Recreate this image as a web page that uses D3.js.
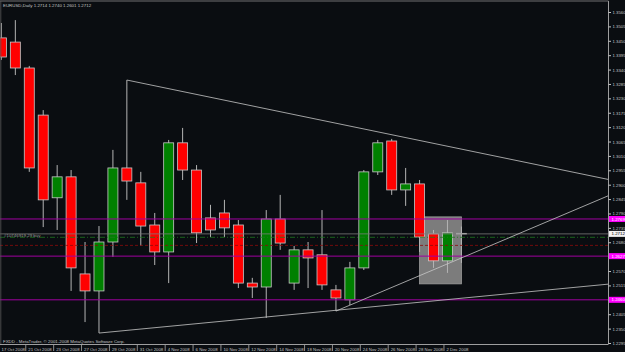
<!DOCTYPE html>
<html>
<head>
<meta charset="utf-8">
<title>EURUSD Daily - D3.js</title>
<script src="https://d3js.org/d3.v7.min.js"></script>
<style>
body { margin: 0; background: #0a0d11; }
svg { display: block; background: #0a0d11; }
text { font-family: "Liberation Sans", Arial, sans-serif; fill: #c4c4c4; }
.small { font-size: 4.4px; }
.axis text { font-size: 4.3px; fill: #c4c4c4; }
.axis line { stroke: #c4c4c4; }
.wick { stroke: #b4b4b4; stroke-width: 1; }
.body { stroke: #c8c8c8; stroke-width: 0.8; }
.trend { stroke: #c8c8c8; stroke-width: 0.8; fill: none; }
.level { stroke: #a000a0; stroke-width: 1; }
</style>
</head>
<body>
<svg width="625" height="352"></svg>

<script>
// daily bars
const dates = ["17 Oct 2008", "20 Oct 2008", "21 Oct 2008", "22 Oct 2008", "23 Oct 2008", "24 Oct 2008",
  "27 Oct 2008", "28 Oct 2008", "29 Oct 2008", "30 Oct 2008", "31 Oct 2008", "3 Nov 2008",
  "4 Nov 2008", "5 Nov 2008", "6 Nov 2008", "7 Nov 2008", "10 Nov 2008", "11 Nov 2008",
  "12 Nov 2008", "13 Nov 2008", "14 Nov 2008", "17 Nov 2008", "18 Nov 2008", "19 Nov 2008",
  "20 Nov 2008", "21 Nov 2008", "24 Nov 2008", "25 Nov 2008", "26 Nov 2008", "27 Nov 2008",
  "28 Nov 2008", "1 Dec 2008", "2 Dec 2008", "3 Dec 2008"];
const opens  = [1.3461, 1.3445, 1.3346, 1.3166, 1.2850, 1.2930, 1.2559, 1.2494, 1.2681, 1.2964, 1.2907, 1.2746,
  1.2643, 1.3060, 1.2956, 1.2773, 1.2792, 1.2746, 1.2524, 1.2509, 1.2769, 1.2524, 1.2651, 1.2632,
  1.2498, 1.2460, 1.2582, 1.2949, 1.3067, 1.2880, 1.2903, 1.2712, 1.2609, 1.2714];
const highs  = [1.3518, 1.3529, 1.3354, 1.3185, 1.2975, 1.2956, 1.2681, 1.2742, 1.3033, 1.3300, 1.2949, 1.2792,
  1.3071, 1.3117, 1.2975, 1.2823, 1.2842, 1.2765, 1.2544, 1.2803, 1.2861, 1.2666, 1.2681, 1.2803,
  1.2517, 1.2605, 1.2956, 1.3071, 1.3075, 1.2964, 1.2918, 1.2727, 1.2765, 1.2740];
const lows   = [1.3377, 1.3319, 1.2949, 1.2738, 1.2727, 1.2494, 1.2375, 1.2333, 1.2624, 1.2842, 1.2666, 1.2593,
  1.2524, 1.2918, 1.2677, 1.2700, 1.2700, 1.2505, 1.2467, 1.2391, 1.2651, 1.2498, 1.2505, 1.2498,
  1.2417, 1.2440, 1.2574, 1.2937, 1.2861, 1.2819, 1.2643, 1.2582, 1.2563, 1.2601];
const closes = [1.3388, 1.3346, 1.2964, 1.2842, 1.2930, 1.2582, 1.2494, 1.2681, 1.2964, 1.2914, 1.2742, 1.2643,
  1.3060, 1.2956, 1.2716, 1.2727, 1.2735, 1.2524, 1.2509, 1.2769, 1.2677, 1.2651, 1.2620, 1.2517,
  1.2467, 1.2582, 1.2949, 1.3060, 1.2880, 1.2903, 1.2700, 1.2609, 1.2716, 1.2712];

// price scale labels
const yTicks = [1.3560, 1.3505, 1.3450, 1.3395, 1.3340, 1.3285, 1.3230, 1.3175, 1.3120, 1.3065, 1.3010, 1.2955,
  1.2900, 1.2845, 1.2790, 1.2735, 1.2680, 1.2625, 1.2570, 1.2515, 1.2460, 1.2405, 1.2350, 1.2295];

// objects on the chart
const levels = [1.2769, 1.2627, 1.2460];
const bid = 1.2712;
const orderPrice = 1.2699;
const stopPrice = 1.2668;
const trendlines = [
  { i0: 9, p0: 1.3300, i1: 28, p1: 1.3091 },
  { i0: 24, p0: 1.2417, i1: 33, p1: 1.2620 },
  { i0: 7, p0: 1.2333, i1: 24, p1: 1.2420 }
];
const box = { i0: 30, p0: 1.2777, i1: 33, p1: 1.2521 };

const svg = d3.select("svg");
const right = 608, bottom = 344;

const x = d3.scaleLinear().domain([0, 33]).range([1.4, 461.4]);
const y = d3.scaleLinear().domain([1.2295, 1.3560]).range([343, 12]);

const bars = dates.map((d, i) => ({ i, date: d, o: opens[i], h: highs[i], l: lows[i], c: closes[i] }));

const plot = svg.append("g");
plot.append("clipPath").attr("id", "clip")
  .append("rect").attr("x", 0).attr("y", 0).attr("width", right).attr("height", bottom);
const g = plot.append("g").attr("clip-path", "url(#clip)");

// rectangle object (background)
g.append("rect")
  .attr("x", x(box.i0))
  .attr("y", y(box.p0))
  .attr("width", x(box.i1) - x(box.i0))
  .attr("height", y(box.p1) - y(box.p0))
  .attr("fill", "#7c7c7c")
  .attr("stroke", "#9c9c9c")
  .attr("stroke-width", 0.8);

// candles
g.selectAll(".wick").data(bars).enter().append("line")
  .attr("class", "wick")
  .attr("x1", d => x(d.i)).attr("x2", d => x(d.i))
  .attr("y1", d => y(d.h)).attr("y2", d => y(d.l));

g.selectAll(".body").data(bars).enter().append("rect")
  .attr("class", "body")
  .attr("x", d => x(d.i) - 5)
  .attr("width", 10)
  .attr("y", d => y(Math.max(d.o, d.c)))
  .attr("height", d => Math.max(0.6, Math.abs(y(d.o) - y(d.c))))
  .attr("fill", d => d.c > d.o ? "#008000" : (d.c < d.o ? "#ff0000" : "#c8c8c8"));

// horizontal lines
g.append("line").attr("x1", 0).attr("x2", right).attr("y1", y(bid)).attr("y2", y(bid))
  .attr("stroke", "#7a7a7a").attr("stroke-width", 0.8);
g.append("line").attr("x1", 0).attr("x2", right).attr("y1", y(orderPrice)).attr("y2", y(orderPrice))
  .attr("stroke", "#1f7a1f").attr("stroke-width", 0.8).attr("stroke-dasharray", "5,2,1,2");
g.append("line").attr("x1", 0).attr("x2", right).attr("y1", y(stopPrice)).attr("y2", y(stopPrice))
  .attr("stroke", "#8a0c0c").attr("stroke-width", 0.8).attr("stroke-dasharray", "3,2");
g.selectAll(".level").data(levels).enter().append("line")
  .attr("class", "level")
  .attr("x1", 0).attr("x2", right)
  .attr("y1", d => y(d)).attr("y2", d => y(d));

// trend lines as rays to the right edge
const iEdge = x.invert(right);
g.selectAll(".trend").data(trendlines).enter().append("line")
  .attr("class", "trend")
  .attr("x1", d => x(d.i0)).attr("y1", d => y(d.p0))
  .attr("x2", x(iEdge))
  .attr("y2", d => y(d.p0 + (d.p1 - d.p0) * (iEdge - d.i0) / (d.i1 - d.i0)));

// order label
g.append("text").attr("class", "small").attr("x", 4).attr("y", y(orderPrice) - 0.6)
  .attr("fill", "#9a9a9a").style("fill", "#9a9a9a").text("#10746919,29 buy");

// frame
svg.append("line").attr("x1", right + 0.5).attr("x2", right + 0.5).attr("y1", 1).attr("y2", bottom)
  .attr("stroke", "#c4c4c4").attr("stroke-width", 0.8);
svg.append("line").attr("x1", 0).attr("x2", right + 0.5).attr("y1", bottom + 0.5).attr("y2", bottom + 0.5)
  .attr("stroke", "#c4c4c4").attr("stroke-width", 0.8);
svg.append("line").attr("x1", 0).attr("x2", right + 0.5).attr("y1", 1).attr("y2", 1)
  .attr("stroke", "#8a8a8a").attr("stroke-width", 0.8);
svg.append("line").attr("x1", 0.8).attr("x2", 0.8).attr("y1", 1).attr("y2", bottom)
  .attr("stroke", "#5a5a5a").attr("stroke-width", 0.8);

// price axis
const yAxis = d3.axisRight(y).tickValues(yTicks).tickSize(2.5).tickSizeOuter(0)
  .tickFormat(d3.format(".4f")).tickPadding(1.5);
const ya = svg.append("g").attr("class", "axis")
  .attr("transform", `translate(${right + 0.5},0)`)
  .call(yAxis);
ya.select(".domain").remove();
ya.selectAll("text").attr("dy", "0.35em");

// highlighted price labels
const tags = levels.map(v => ({ v, bg: "#ff00ff", fg: "#ffffff" }))
  .concat([{ v: bid, bg: "#f2f2f2", fg: "#000000" }]);
const tg = svg.append("g");
tg.selectAll("rect").data(tags).enter().append("rect")
  .attr("x", right + 1).attr("width", 625 - right - 1)
  .attr("y", d => y(d.v) - 3).attr("height", 6)
  .attr("fill", d => d.bg);
tg.selectAll("text").data(tags).enter().append("text")
  .attr("class", "small")
  .attr("x", right + 3.5).attr("y", d => y(d.v)).attr("dy", "0.35em")
  .style("fill", d => d.fg)
  .text(d => d3.format(".4f")(d.v));

// time axis
const labelBars = bars.filter(d => d.i % 2 === 0 && d.i < 33);
const xa = svg.append("g").attr("class", "axis");
xa.selectAll("line").data(labelBars).enter().append("line")
  .attr("x1", d => x(d.i) - 3.5).attr("x2", d => x(d.i) - 3.5)
  .attr("y1", bottom + 1).attr("y2", bottom + 7)
  .attr("stroke-width", 0.7);
xa.selectAll("text").data(labelBars).enter().append("text")
  .attr("x", d => Math.max(1.5, x(d.i) - 1)).attr("y", 350.8)
  .text(d => d.date);

// header and footer text
svg.append("text").attr("class", "small").attr("x", 3).attr("y", 6.6)
  .text(`EURUSD,Daily  ${opens[33].toFixed(4)} ${highs[33].toFixed(4)} ${lows[33].toFixed(4)} ${closes[33].toFixed(4)}`);
svg.append("text").attr("class", "small").attr("x", 3).attr("y", 342.6)
  .text("FXDD - MetaTrader, \u00a9 2001-2008 MetaQuotes Software Corp.");
</script>
</body>
</html>
